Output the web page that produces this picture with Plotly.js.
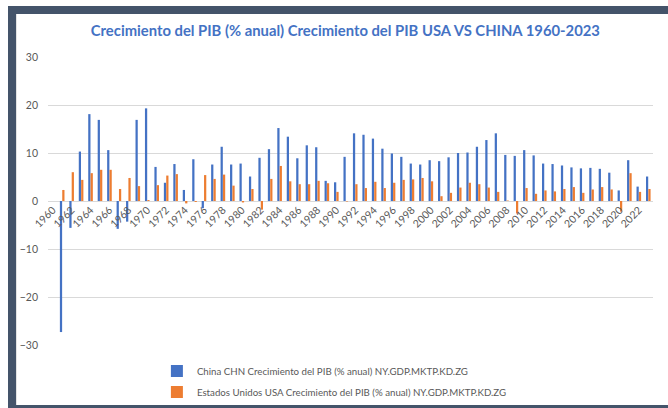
<!DOCTYPE html>
<html>
<head>
<meta charset="utf-8">
<script src="https://cdn.plot.ly/plotly-3.0.1.min.js"></script>
<style>
  body { margin: 0; background: #ffffff; }
  #wrap { position: relative; width: 668px; height: 408px; overflow: hidden; }
  #chart { position: absolute; left: 0; top: 0; width: 668px; height: 408px; }
  .band { position: absolute; background: #44546a; pointer-events: none; }
</style>
</head>
<body>
<div id="wrap">
  <div id="chart"></div>
  <div class="band" style="left:8px; top:6px; width:660px; height:8px;"></div>
  <div class="band" style="left:8px; top:6px; width:8px; height:402px;"></div>
  <div class="band" style="left:8px; top:405px; width:660px; height:3px;"></div>
  <div style="position:absolute; left:16px; top:14px; width:1px; height:391px; background:#e3e3e3;"></div>
</div>
<script>
// years 1960-2023, 1960 has no data
let years = [];
for (let y = 1960; y <= 2023; y++) years.push(y);

let china = [null,
  -27.3, -5.6, 10.3, 18.1, 16.9, 10.6, -5.8, -4.3, 16.9, 19.3,
  7.1, 3.8, 7.7, 2.3, 8.7, -1.5, 7.6, 11.3, 7.6, 7.8,
  5.1, 9.0, 10.8, 15.2, 13.4, 8.9, 11.6, 11.2, 4.2, 3.9,
  9.2, 14.1, 13.8, 13.0, 10.9, 9.9, 9.2, 7.8, 7.6, 8.5,
  8.3, 9.1, 10.0, 10.1, 11.3, 12.7, 14.1, 9.6, 9.4, 10.6,
  9.5, 7.8, 7.7, 7.4, 7.0, 6.8, 6.9, 6.7, 5.9, 2.2,
  8.5, 3.0, 5.1];

let usa = [null,
  2.3, 6.0, 4.4, 5.8, 6.5, 6.5, 2.5, 4.8, 3.1, 0.2,
  3.3, 5.3, 5.6, -0.5, -0.2, 5.4, 4.6, 5.5, 3.2, -0.3,
  2.5, -1.8, 4.6, 7.3, 4.1, 3.5, 3.5, 4.2, 3.7, 1.9,
  -0.1, 3.5, 2.7, 4.0, 2.7, 3.8, 4.4, 4.5, 4.8, 4.1,
  1.0, 1.7, 2.8, 3.8, 3.5, 2.8, 1.9, 0.1, -2.6, 2.7,
  1.5, 2.2, 2.0, 2.5, 2.9, 1.7, 2.4, 2.9, 2.4, -2.2,
  5.8, 1.9, 2.5];

let nameChina = "China CHN Crecimiento del PIB (% anual) NY.GDP.MKTP.KD.ZG";
let nameUsa = "Estados Unidos USA Crecimiento del PIB (% anual) NY.GDP.MKTP.KD.ZG";

let traceChina = {
    x: years,
    y: china,
    name: nameChina,
    type: 'bar',
    legendgroup: 'a',
    hoverinfo: 'skip',
    marker: { color: '#4472c4' }
};
let traceUsa = {
    x: years,
    y: usa,
    name: nameUsa,
    type: 'bar',
    legendgroup: 'b',
    hoverinfo: 'skip',
    marker: { color: '#ed7d31' }
};

let gray = '#595959';
let layout = {
    width: 668,
    height: 408,
    margin: { l: 48, r: 15, t: 57, b: 63, autoexpand: false },
    paper_bgcolor: '#ffffff',
    plot_bgcolor: '#ffffff',
    font: { family: 'Lato, sans-serif', color: gray, size: 10 },
    title: {
        text: '<b>Crecimiento del PIB (% anual) Crecimiento del PIB USA VS CHINA 1960-2023</b>',
        font: { family: 'Lato, sans-serif', size: 14.8, color: '#4472c4' },
        x: 0.517, xref: 'container', xanchor: 'center',
        y: 0.924, yref: 'container', yanchor: 'middle'
    },
    barmode: 'group',
    bargap: 0.5,
    bargroupgap: 0.05,
    xaxis: {
        range: [1959.5, 2023.5],
        tick0: 1960,
        dtick: 2,
        tickangle: -45,
        showgrid: false,
        zeroline: false,
        showline: false,
        ticks: '',
        anchor: 'free',
        position: 0.5,
        automargin: false,
        tickfont: { size: 10.5, color: gray }
    },
    yaxis: {
        range: [-30, 30],
        dtick: 10,
        showgrid: true,
        gridcolor: '#d9d9d9',
        zeroline: true,
        zerolinecolor: '#d9d9d9',
        zerolinewidth: 1,
        ticks: '',
        automargin: false,
        ticklabelstandoff: 9,
        tickfont: { size: 10.5, color: gray }
    },
    showlegend: true,
    legend: {
        orientation: 'v',
        traceorder: 'grouped',
        tracegroupgap: 2,
        x: 0.18, xanchor: 'left',
        y: -0.04, yanchor: 'top',
        font: { size: 9.7, color: gray }
    }
};

Plotly.newPlot('chart', [traceChina, traceUsa], layout, { staticPlot: true });
</script>
</body>
</html>
